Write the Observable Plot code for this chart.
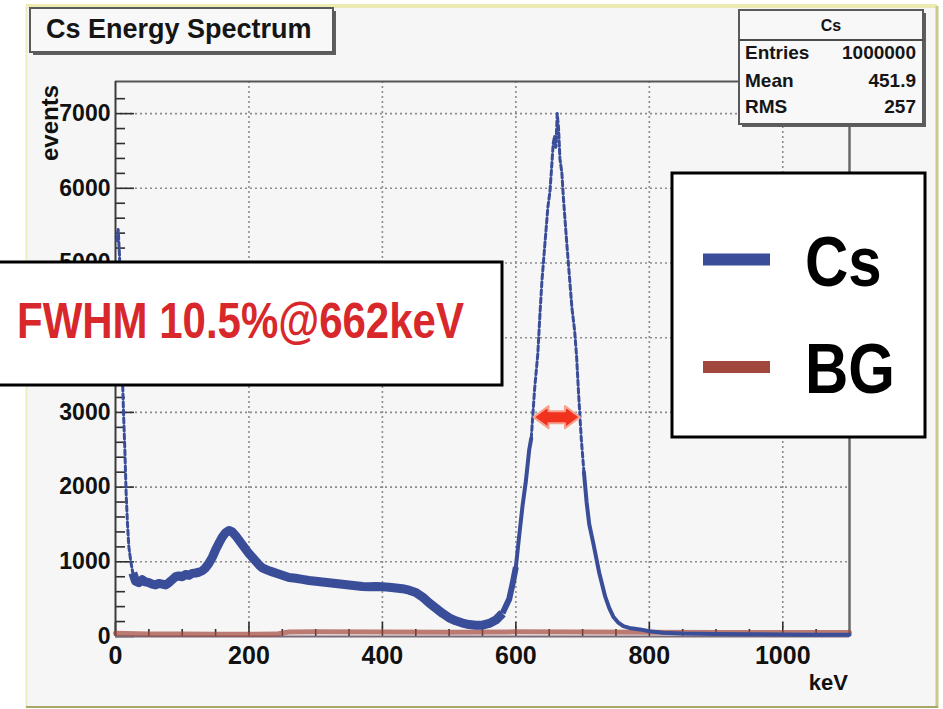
<!DOCTYPE html>
<html>
<head>
<meta charset="utf-8">
<script src="https://cdn.jsdelivr.net/npm/d3@7"></script>
<script src="https://cdn.jsdelivr.net/npm/@observablehq/plot@0.6"></script>
<style>
  body { margin: 0; background: #ffffff; }
  #chart svg { display: block; }
</style>
</head>
<body>
<div id="chart"></div>
<script>
// Cs-137 energy spectrum (keV vs. counts per bin)
const energy = [
  2, 4, 6, 8, 10, 12, 14, 16, 18, 20, 23, 26,
  30, 35, 40, 45, 50, 55, 60, 65, 70, 75, 80, 85, 90, 95, 100, 105, 110, 115, 120, 125,
  130, 135, 140, 145, 150, 155, 160, 165, 170, 175, 180, 185, 190, 195, 200, 205, 210,
  215, 220, 225, 230, 235, 240, 250, 260, 270, 280, 290, 300, 310, 320, 330, 340, 350,
  360, 370, 380, 390, 400, 410, 420, 430, 440, 450, 460, 470, 480, 490, 500, 510, 520,
  530, 540, 550, 560, 570, 580, 590, 595, 600, 605, 610, 615, 620, 623, 628, 633, 636,
  639, 643, 648, 651, 653, 656, 658, 660, 662, 664, 666, 669, 671, 676, 680, 684, 688,
  691, 694, 698, 702, 706, 710, 716, 725, 734, 740, 746, 753, 761, 770, 786, 800, 820,
  850, 900, 950, 1000, 1050, 1100
];
const csCounts = [
  5300, 5450, 5100, 4300, 3600, 3000, 2500, 1900, 1500, 1200, 1000, 850,
  740, 720, 760, 730, 720, 700, 690, 710, 700, 690, 720, 760, 800, 810, 800, 830, 820, 845, 850, 860,
  880, 920, 980, 1060, 1160, 1250, 1330, 1390, 1420, 1400, 1350, 1290, 1230, 1170, 1110, 1060, 1010,
  960, 920, 900, 880, 865, 850, 820, 790, 780, 765, 750, 740, 730, 720, 710, 700, 690,
  680, 670, 665, 668, 665, 660, 650, 640, 620, 590, 530, 450, 380, 310, 250, 210, 180,
  160, 150, 152, 175, 220, 310, 500, 700, 930, 1350, 1750, 2080, 2500, 2650, 3300, 3800, 4300,
  4750, 5200, 5750, 5950, 6200, 6600, 6700, 6550, 7000, 6800, 6400, 6200, 5900, 5300, 4850, 4400, 4100,
  3750, 3250, 2650, 2200, 1800, 1500, 1250, 850, 530, 380, 265, 190, 140, 115, 95, 70, 50,
  40, 35, 30, 28, 25, 25
];

// Background run
const bgEnergy = [0, 50, 100, 150, 200, 240, 260, 300, 400, 500, 600, 700, 800, 900, 1000, 1100];
const bgCounts = [45, 35, 32, 30, 30, 32, 60, 62, 60, 58, 62, 60, 58, 55, 55, 52];

// Axis ticks and labels
const xTicks = [0, 200, 400, 600, 800, 1000];
const yTicks = [0, 1000, 2000, 3000, 4000, 5000, 6000, 7000];
const xLabel = "keV";
const yLabel = "events";

// Histogram statistics box
const histName = "Cs";
const statNames = ["Entries", "Mean", "RMS"];
const statValues = ["1000000", "451.9", "257"];

// Resolution annotation
const peakEnergy = 662;     // keV
const fwhmPercent = 10.5;   // %
const arrowLevel = 2930;    // counts
const title = "Cs Energy Spectrum";
const legendLabels = ["Cs", "BG"];

const CS_COLOR = "#3a4d99";
const BG_COLOR = "#a2473b";
const FONT = "'Liberation Sans', Arial, Helvetica, sans-serif";

const cs = energy.map((e, i) => ({e, c: csCounts[i]}));
const bg = bgEnergy.map((e, i) => ({e, c: bgCounts[i]}));

// Line styling per energy range: steep parts are drawn dashed and thin
const segments = [
  {from: 0, to: 26, w: 3, dash: "5,3", cap: "round"},
  {from: 26, to: 580, w: 9, cap: "butt"},
  {from: 580, to: 600, w: 6, cap: "butt"},
  {from: 600, to: 623, w: 4, cap: "round"},
  {from: 623, to: 702, w: 3, dash: "5,3", cap: "round"},
  {from: 702, to: 1100, w: 4, cap: "round"}
];

const W = 943, H = 709;
const mL = 115, mR = 94, mT = 81, mB = 73;
const innerW = W - mL - mR, innerH = H - mT - mB;

const yMinor = d3.range(200, 7400, 200).filter(v => v % 1000 !== 0);
const xMinor = d3.range(50, 1100, 50).filter(v => v % 200 !== 0);

// Canvas panel behind everything
function canvas() {
  const g = d3.create("svg:g");
  g.append("rect").attr("x", 26).attr("y", 6).attr("width", 911).attr("height", 701)
    .attr("fill", "#f6f6f6");
  g.append("line").attr("x1", 26).attr("x2", 937).attr("y1", 6).attr("y2", 6)
    .attr("stroke", "#ecebb4").attr("stroke-width", 4);
  g.append("line").attr("x1", 26.5).attr("x2", 26.5).attr("y1", 6).attr("y2", 707)
    .attr("stroke", "#eeeec2").attr("stroke-width", 2);
  g.append("line").attr("x1", 937).attr("x2", 937).attr("y1", 6).attr("y2", 708)
    .attr("stroke", "#c9c98c").attr("stroke-width", 3);
  g.append("line").attr("x1", 26).attr("x2", 938).attr("y1", 707).attr("y2", 707)
    .attr("stroke", "#a9a866").attr("stroke-width", 2);
  return g.node();
}

// Double-headed arrow spanning the FWHM around the photopeak
function fwhmArrow(index, {x, y}) {
  const half = peakEnergy * fwhmPercent / 100 / 2;
  const xl = x(peakEnergy - half), xr = x(peakEnergy + half), yc = y(arrowLevel);
  const h = 15, hh = 11, sh = 6;
  const pts = [
    [xl, yc], [xl + h, yc - hh], [xl + h, yc - sh], [xr - h, yc - sh], [xr - h, yc - hh],
    [xr, yc], [xr - h, yc + hh], [xr - h, yc + sh], [xl + h, yc + sh], [xl + h, yc + hh]
  ];
  const g = d3.create("svg:g");
  g.append("polygon").attr("points", pts.map(p => p.join(",")).join(" "))
    .attr("fill", "#f0321f").attr("stroke", "#f7a08e").attr("stroke-width", 2)
    .attr("stroke-linejoin", "round");
  return g.node();
}

// Title, statistics, resolution and legend panels
function panels() {
  const g = d3.create("svg:g").attr("font-family", FONT).attr("font-weight", "bold")
    .attr("text-anchor", "start");

  // axis titles
  g.append("text").attr("x", 848).attr("y", 690).attr("text-anchor", "end")
    .attr("font-size", 22).attr("fill", "#111").text(xLabel);
  g.append("text").attr("transform", "translate(58,85) rotate(-90)").attr("text-anchor", "end")
    .attr("font-size", 24).attr("fill", "#111").text(yLabel);

  // title pave
  g.append("rect").attr("x", 33).attr("y", 11).attr("width", 303).attr("height", 44).attr("fill", "#5e5e5e");
  g.append("rect").attr("x", 30).attr("y", 8).attr("width", 303).attr("height", 44)
    .attr("fill", "#f8f8f8").attr("stroke", "#5a5a5a").attr("stroke-width", 2);
  g.append("text").attr("x", 46).attr("y", 38).attr("font-size", 27).attr("fill", "#151515").text(title);

  // statistics pave
  g.append("rect").attr("x", 742).attr("y", 13).attr("width", 184).attr("height", 114).attr("fill", "#5e5e5e");
  g.append("rect").attr("x", 739).attr("y", 10).attr("width", 184).attr("height", 114)
    .attr("fill", "#f8f8f8").attr("stroke", "#5a5a5a").attr("stroke-width", 2);
  g.append("line").attr("x1", 739).attr("x2", 923).attr("y1", 40).attr("y2", 40)
    .attr("stroke", "#4a4a4a").attr("stroke-width", 2);
  g.append("text").attr("x", 831).attr("y", 31).attr("text-anchor", "middle")
    .attr("font-size", 16).attr("fill", "#151515").text(histName);
  const rowY = [59, 87, 113];
  statNames.forEach((name, i) => {
    g.append("text").attr("x", 745).attr("y", rowY[i]).attr("font-size", 19).attr("fill", "#151515").text(name);
    g.append("text").attr("x", 916).attr("y", rowY[i]).attr("text-anchor", "end")
      .attr("font-size", 19).attr("fill", "#151515").text(statValues[i]);
  });

  // resolution pave
  g.append("rect").attr("x", -4).attr("y", 262).attr("width", 506).attr("height", 123)
    .attr("fill", "#ffffff").attr("stroke", "#000").attr("stroke-width", 3);
  g.append("text").attr("transform", "translate(17,338) scale(1,1.17)")
    .attr("font-size", 42).attr("fill", "#d8282b")
    .text(`FWHM ${fwhmPercent}%@${peakEnergy}keV`);

  // legend
  g.append("rect").attr("x", 672).attr("y", 173).attr("width", 253).attr("height", 264)
    .attr("fill", "#ffffff").attr("stroke", "#000").attr("stroke-width", 3);
  const colors = [CS_COLOR, BG_COLOR];
  const swatchY = [259.5, 367];
  const textY = [286, 393];
  legendLabels.forEach((lab, i) => {
    g.append("line").attr("x1", 703).attr("x2", 770).attr("y1", swatchY[i]).attr("y2", swatchY[i])
      .attr("stroke", colors[i]).attr("stroke-width", 12);
    g.append("text").attr("transform", `translate(805,${textY[i]}) scale(1,1.17)`)
      .attr("font-size", 60).attr("fill", "#000").text(lab);
  });
  return g.node();
}

const tickStyle = {stroke: "#2e2e2e", strokeWidth: 1.6};
const gridStyle = {stroke: "#8c8c8c", strokeWidth: 1.6, strokeDasharray: "2,3"};
const plain = d3.format("d");

const chart = Plot.plot({
  width: W,
  height: H,
  marginLeft: mL,
  marginRight: mR,
  marginTop: mT,
  marginBottom: mB,
  style: {background: "transparent", fontFamily: FONT, color: "#111", overflow: "visible"},
  x: {domain: [0, 1100]},
  y: {domain: [0, 7430]},
  marks: [
    canvas,
    // dotted grid
    Plot.ruleX(xTicks.filter(v => v > 0), {x: d => d, ...gridStyle}),
    Plot.ruleY(yTicks.filter(v => v > 0), {y: d => d, ...gridStyle}),
    // inward ticks
    Plot.tickY(yTicks, {y: d => d, insetRight: innerW - 19, ...tickStyle}),
    Plot.tickY(yMinor, {y: d => d, insetRight: innerW - 10, ...tickStyle}),
    Plot.tickX(xTicks, {x: d => d, insetTop: innerH - 14, ...tickStyle}),
    Plot.tickX(xMinor, {x: d => d, insetTop: innerH - 7, ...tickStyle}),
    // frame
    Plot.ruleY([7430], {y: d => d, stroke: "#555", strokeWidth: 2}),
    Plot.ruleX([1100], {x: d => d, stroke: "#6a6a6a", strokeWidth: 2.5}),
    Plot.ruleY([0], {y: d => d, stroke: "#7a6a78", strokeWidth: 2}),
    Plot.ruleX([0], {x: d => d, stroke: "#3c3c3c", strokeWidth: 2}),
    // background spectrum
    Plot.line(bg, {x: "e", y: "c", stroke: BG_COLOR, strokeWidth: 5, strokeOpacity: 0.7}),
    // Cs spectrum
    ...segments.map(s => Plot.line(cs.filter(d => d.e >= s.from && d.e <= s.to), {
      x: "e", y: "c", stroke: CS_COLOR, strokeWidth: s.w,
      strokeDasharray: s.dash, strokeLinejoin: "round", strokeLinecap: s.cap
    })),
    fwhmArrow,
    Plot.axisX({ticks: xTicks, tickFormat: plain, tickSize: 0, tickPadding: 10, fontSize: 25, fontWeight: "bold", label: null}),
    Plot.axisY({ticks: yTicks, tickFormat: plain, tickSize: 0, tickPadding: 5, fontSize: 23, fontWeight: "bold", label: null}),
    panels
  ]
});

document.getElementById("chart").appendChild(chart);
</script>
</body>
</html>
